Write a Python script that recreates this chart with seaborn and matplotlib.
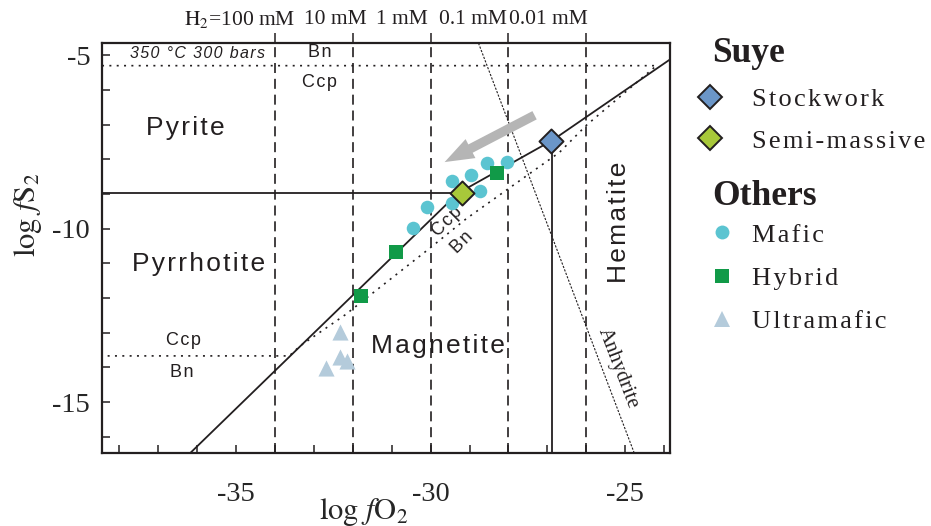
import numpy as np
import matplotlib
matplotlib.use("Agg")
import matplotlib.pyplot as plt
import seaborn as sns
from matplotlib.lines import Line2D

# ---- data ----
stock_x = [-26.9]
stock_y = [-7.48]
semi_x = [-29.2]
semi_y = [-8.98]
mafic_x = [-28.03, -28.54, -28.97, -29.44, -28.74, -29.46, -30.1, -30.46]
mafic_y = [-8.08, -8.11, -8.46, -8.63, -8.92, -9.27, -9.38, -9.99]
hybrid_x = [-28.3, -30.9, -31.8]
hybrid_y = [-8.40, -10.68, -11.95]
ultra_x = [-32.33, -32.33, -32.15, -32.7]
ultra_y = [-12.98, -13.7, -13.82, -14.02]

# phase boundaries
mt_bound_x = [-36.66, -29.3, -26.87, -23.85]
mt_bound_y = [-17.0, -8.98, -7.45, -5.12]
py_po_y = -8.98
py_po_xend = -29.3
hem_x = -26.87
hem_ytop = -7.45
ccp_bn_x = [-38.44, -24.2, -26.0, -26.69, -29.08, -30.05, -31.49, -32.2, -33.35, -33.63, -38.44]
ccp_bn_y = [-5.3, -5.3, -7.02, -7.8, -9.71, -10.59, -11.86, -12.49, -13.38, -13.67, -13.67]
anhy_x = [-28.77, -24.77]
anhy_y = [-4.65, -16.47]
h2_x = [-34, -32, -30, -28, -26]
h2_labels = [r"$\mathrm{H_2}$=100 mM", "10 mM", "1 mM", "0.1 mM", "0.01 mM"]
h2_label_x = [-34.9, -32.46, -30.74, -28.92, -26.97]
arrow_from = (-27.33, -6.73)
arrow_to = (-29.64, -8.08)

sns.set_style("ticks")
plt.rcParams['font.family'] = ['Liberation Serif', 'DejaVu Serif']
plt.rcParams['mathtext.fontset'] = 'stix'
plt.rcParams['axes.unicode_minus'] = False

dark = '#231f20'
HS = '\u200a'  # hair space, used for the loose letter spacing of the original


def track(s):
    return HS.join(s)


fig = plt.figure(figsize=(9.31, 5.26), dpi=100)
ax = fig.add_axes([0.1096, 0.1388, 0.6101, 0.7792])

# boundaries
for x in h2_x:
    ax.axvline(x, color=dark, lw=1.2, ls=(0, (6, 3.5)), zorder=1)
ax.plot(mt_bound_x, mt_bound_y, color=dark, lw=1.3, zorder=2)
ax.plot([-40, py_po_xend], [py_po_y, py_po_y], color=dark, lw=1.3, zorder=2)
ax.plot([hem_x, hem_x], [hem_ytop, -17], color=dark, lw=1.3, zorder=2)
ax.plot(ccp_bn_x, ccp_bn_y, color=dark, lw=1.2, ls=(0, (1.2, 3.2)), zorder=2)
ax.plot(anhy_x, anhy_y, color=dark, lw=0.8, ls=(0, (2, 1.3)), zorder=2)

ax.annotate('', xy=arrow_to, xytext=arrow_from,
            arrowprops=dict(arrowstyle='simple,head_length=0.75,head_width=0.55,tail_width=0.24',
                            color='#b5b5b5', lw=0, shrinkA=0, shrinkB=0, mutation_scale=28),
            zorder=3)

# samples
sns.scatterplot(x=mafic_x, y=mafic_y, ax=ax, color='#5bc4d1', marker='o', s=95, linewidth=0, zorder=4)
sns.scatterplot(x=hybrid_x, y=hybrid_y, ax=ax, color='#119a48', marker='s', s=115, linewidth=0, zorder=5)
sns.scatterplot(x=ultra_x, y=ultra_y, ax=ax, color='#b4cbdb', marker='^', s=135, linewidth=0, zorder=4)
sns.scatterplot(x=stock_x, y=stock_y, ax=ax, color='#6b96c8', marker='D', s=150,
                edgecolor=dark, linewidth=1.4, zorder=6)
sns.scatterplot(x=semi_x, y=semi_y, ax=ax, color='#a8c83a', marker='D', s=150,
                edgecolor=dark, linewidth=1.4, zorder=6)

ax.set_xlim(-38.44, -23.85)
ax.set_ylim(-16.47, -4.65)
ax.set_xticks([-35, -30, -25])
ax.set_yticks([-5, -10, -15])
ax.set_xticks(np.arange(-38, -23), minor=True)
ax.set_yticks(np.arange(-16, -4), minor=True)
ax.tick_params(which='both', direction='in', length=6, width=1.1, color=dark,
               labelsize=20.5, top=False, right=False)
ax.tick_params(axis='x', pad=21)
ax.tick_params(axis='y', pad=8.5)
for s in ax.spines.values():
    s.set_linewidth(1.6)
    s.set_color(dark)
    s.set_visible(True)

ax.set_xlabel(r'$\mathrm{log}\ f\mathrm{O}_2$', fontsize=22)
ax.set_ylabel(r'$\mathrm{log}\ f\mathrm{S}_2$', fontsize=22)
ax.xaxis.set_label_coords(0.461, -0.143)
ax.xaxis.label.set_va('center')
ax.yaxis.set_label_coords(-0.130, 0.58)
ax.yaxis.label.set_va('center')

# H2 scale on top
top = ax.secondary_xaxis('top')
top.set_xticks(h2_x)
top.set_xticklabels([''] * len(h2_x))
top.tick_params(direction='out', length=7, width=1.1, color=dark)
top.spines['top'].set_visible(False)
for lx, lab in zip(h2_label_x, h2_labels):
    ax.text(lx, 1.058, lab, transform=ax.get_xaxis_transform(), ha='center', va='center',
            fontsize=15.5, color=dark)

# field labels
sans = ['Liberation Sans', 'DejaVu Sans']
big = dict(family=sans, fontsize=19, ha='center', va='center', color=dark)
small = dict(family=sans, fontsize=13, ha='center', va='center', color=dark)
ax.text(-36.31, -7.10, track('Pyrite'), **big)
ax.text(-35.97, -11.02, track('Pyrrhotite'), **big)
ax.text(-29.82, -13.39, track('Magnetite'), **big)
ax.text(-25.15, -9.81, track('Hematite'), rotation=90, **big)
ax.text(-25.2, -14.02, 'Anhydrite', fontsize=15, ha='center', va='center', rotation=-69, color=dark)
ax.text(-37.72, -4.94, track('350 °C 300 bars'), family=sans, style='italic', fontsize=11.5,
        ha='left', va='center', color=dark)
ax.text(-32.85, -4.91, track('Bn'), **small)
ax.text(-32.85, -5.78, track('Ccp'), **small)
ax.text(-36.36, -13.24, track('Ccp'), **small)
ax.text(-36.38, -14.14, track('Bn'), **small)
ax.text(-29.56, -9.81, track('Ccp'), rotation=45, **small)
ax.text(-29.2, -10.39, track('Bn'), rotation=45, **small)


# legends
def mk(marker, color, ec='none', ms=10):
    return Line2D([], [], ls='none', marker=marker, markerfacecolor=color,
                  markeredgecolor=ec, markeredgewidth=1.4 if ec != 'none' else 0, markersize=ms)


prop = dict(family=['Liberation Serif', 'DejaVu Serif'], size=19)
fig.text(712 / 931, 1 - 53 / 526, 'Suye', fontsize=25.5, weight='bold', va='center', ha='left', color=dark)
fig.text(712 / 931, 1 - 196 / 526, 'Others', fontsize=25.5, weight='bold', va='center', ha='left', color=dark)
leg1 = fig.legend([mk('D', '#6b96c8', dark, 12), mk('D', '#a8c83a', dark, 12)],
                  [track('Stockwork'), track('Semi-massive')], loc='center left',
                  bbox_to_anchor=(697 / 931, 1 - 120 / 526), frameon=False, prop=prop,
                  handlelength=1.0, handletextpad=1.08, labelspacing=0.70,
                  borderaxespad=0, borderpad=0)
leg2 = fig.legend([mk('o', '#5bc4d1', ms=10), mk('s', '#119a48', ms=10.5), mk('^', '#b4cbdb', ms=11.5)],
                  [track('Mafic'), track('Hybrid'), track('Ultramafic')], loc='center left',
                  bbox_to_anchor=(709 / 931, 1 - 278 / 526), frameon=False, prop=prop,
                  handlelength=1.0, handletextpad=0.63, labelspacing=0.74,
                  borderaxespad=0, borderpad=0)
for t in leg1.get_texts() + leg2.get_texts():
    t.set_color(dark)

fig.savefig('out.png', dpi=100, facecolor='white')
